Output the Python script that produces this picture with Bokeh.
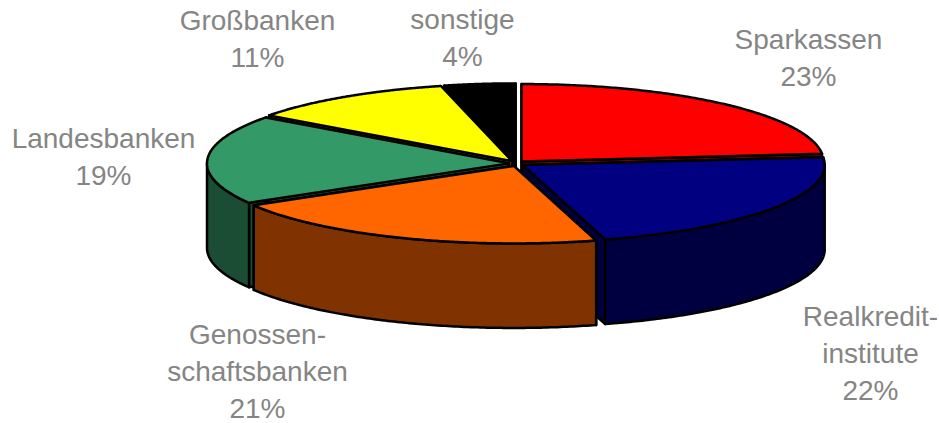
import numpy as np
from bokeh.plotting import figure
from bokeh.models import Range1d, ColumnDataSource
from bokeh.core.properties import value
from bokeh.embed import file_html
from bokeh.resources import INLINE

# data
categories = ["Sparkassen", "Realkredit-institute", "Genossen-schaftsbanken",
              "Landesbanken", "Großbanken", "sonstige"]
shares = [23.4, 22.2, 20.9, 18.6, 11.1, 3.8]
top_colors = ["#FF0000", "#000080", "#FF6600", "#339966", "#FFFF00", "#000000"]
side_colors = ["#800000", "#000040", "#803300", "#1A4D33", "#808000", "#000000"]
label_lines = [["Sparkassen", "23%"], ["Realkredit-", "institute", "22%"],
               ["Genossen-", "schaftsbanken", "21%"], ["Landesbanken", "19%"],
               ["Großbanken", "11%"], ["sonstige", "4%"]]
label_x = [808, 870, 257, 103, 257, 462]
label_y = [39, 316, 334, 138, 20, 19]
LINE_STEP = 36.8

# geometry of the projected pie
CX, CY, A, B, H, EXPLODE, TILT = 516.0, 163.0, 302.0, 77.5, 84.5, 7.5, 0.35

p = figure(width=939, height=423, output_backend="svg", toolbar_location=None,
           x_range=Range1d(0, 939), y_range=Range1d(423, 0), min_border=0,
           background_fill_color="white", border_fill_color="white")
p.axis.visible = False
p.grid.visible = False
p.outline_line_color = None

fr = np.cumsum([0.0] + shares) / sum(shares) * 2 * np.pi
slices = []
for i in range(len(shares)):
    t0, t1 = fr[i], fr[i + 1]
    mid = (t0 + t1) / 2
    ax = CX + EXPLODE * np.sin(mid)
    ay = CY - EXPLODE * TILT * np.cos(mid)
    slices.append((i, t0, t1, ax, ay))


def rim(ax, ay, t):
    return ax + A * np.sin(t), ay - B * np.cos(t)


def poly(xs, ys, fill):
    p.patch(list(xs), list(ys), fill_color=fill, line_color="black",
            line_width=2.5, line_join="round")


draw_order = [5, 4, 0, 3, 1, 2]
for i in draw_order:
    _, t0, t1, ax, ay = slices[i]
    # radial cut faces
    for t in (t0, t1):
        ex, ey = rim(ax, ay, t)
        poly([ax, ex, ex, ax], [ay, ey, ey + H, ay + H], side_colors[i])
    # outer wall on the visible (front) half only
    lo, hi = max(t0, np.pi / 2), min(t1, 3 * np.pi / 2)
    if hi > lo:
        ts = np.linspace(lo, hi, 120)
        wx, wy = rim(ax, ay, ts)
        poly(np.r_[wx, wx[::-1]], np.r_[wy, wy[::-1] + H], side_colors[i])
    # top face
    ts = np.linspace(t0, t1, 160)
    tx, ty = rim(ax, ay, ts)
    poly(np.r_[ax, tx], np.r_[ay, ty], top_colors[i])

tx, ty, tt = [], [], []
for lines, x0, y0 in zip(label_lines, label_x, label_y):
    for k, s in enumerate(lines):
        tx.append(x0)
        ty.append(y0 + k * LINE_STEP)
        tt.append(s)
p.text(x="x", y="y", text="t", source=ColumnDataSource(dict(x=tx, y=ty, t=tt)),
       text_font=value("Liberation Sans"), text_font_size="28px",
       text_color="#858585", text_align="center", text_baseline="middle")

open("out.html", "w").write(file_html(p, INLINE))
